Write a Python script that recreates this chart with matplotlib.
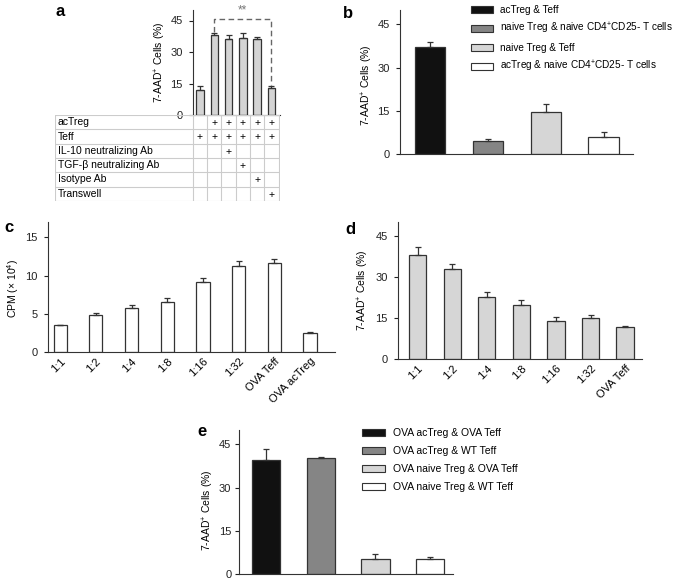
import numpy as np
import matplotlib
matplotlib.use("Agg")
import matplotlib.pyplot as plt
from matplotlib.patches import Patch

plt.rcParams['font.family'] = ['Liberation Sans', 'DejaVu Sans']
plt.rcParams['mathtext.fontset'] = 'custom'
plt.rcParams['mathtext.rm'] = 'Liberation Sans'
plt.rcParams['mathtext.it'] = 'Liberation Sans'
plt.rcParams['font.size'] = 7
plt.rcParams['axes.linewidth'] = 0.8
plt.rcParams['axes.edgecolor'] = '#333333'

W, H = 680, 581

# panel a
a_vals = [12, 38, 36, 36.5, 36, 13]
a_errs = [2, 1, 2, 2.5, 1, 1]
a_rows = ["acTreg", "Teff", "IL-10 neutralizing Ab", "TGF-\u03b2 neutralizing Ab", "Isotype Ab", "Transwell"]
a_marks = [
    [0, 1, 1, 1, 1, 1],
    [1, 1, 1, 1, 1, 1],
    [0, 0, 1, 0, 0, 0],
    [0, 0, 0, 1, 0, 0],
    [0, 0, 0, 0, 1, 0],
    [0, 0, 0, 0, 0, 1],
]

# panel b
b_labels = ["acTreg & Teff", "naive Treg & naive CD4$^{+}$CD25- T cells",
            "naive Treg & Teff", "acTreg & naive CD4$^{+}$CD25- T cells"]
b_vals = [37, 4.5, 14.5, 5.8]
b_errs = [2, 0.8, 2.7, 1.8]

# panel c
c_cats = ["1:1", "1:2", "1:4", "1:8", "1:16", "1:32", "OVA Teff", "OVA acTreg"]
c_vals = [3.5, 4.8, 5.7, 6.6, 9.1, 11.3, 11.6, 2.5]
c_errs = [0.05, 0.3, 0.4, 0.4, 0.6, 0.6, 0.5, 0.1]

# panel d
d_cats = ["1:1", "1:2", "1:4", "1:8", "1:16", "1:32", "OVA Teff"]
d_vals = [38, 33, 22.5, 19.7, 14, 14.8, 11.5]
d_errs = [3, 1.8, 2, 1.8, 1.2, 1.2, 0.7]

# panel e
e_labels = ["OVA acTreg & OVA Teff", "OVA acTreg & WT Teff",
            "OVA naive Treg & OVA Teff", "OVA naive Treg & WT Teff"]
e_vals = [39.5, 40.3, 5.2, 5.2]
e_errs = [3.8, 0.4, 1.8, 0.6]

four_colors = ['#111111', '#858585', '#d6d6d6', '#ffffff']
ylab = "7-AAD$^{+}$ Cells (%)"

fig = plt.figure(figsize=(W / 100, H / 100), dpi=100)


def px_axes(x0, y0, x1, y1):
    return fig.add_axes([x0 / W, 1 - y1 / H, (x1 - x0) / W, (y1 - y0) / H])


def style(ax, pad=4.5):
    for s in ['top', 'right']:
        ax.spines[s].set_visible(False)
    ax.tick_params(axis='y', length=3, width=0.8, pad=pad, labelsize=8, colors='#222222')
    ax.tick_params(axis='x', length=0, pad=3, labelsize=8)


def bars(ax, vals, errs, width, colors):
    x = np.arange(len(vals))
    ax.bar(x, vals, width, color=colors, edgecolor='#333333', linewidth=0.9, zorder=2)
    ax.errorbar(x, vals, yerr=[np.zeros(len(errs)), errs], fmt='none',
                ecolor='#333333', elinewidth=0.9, capsize=2.5, capthick=0.9, zorder=3)
    return x


def ylabel(ax, text, xf, yf):
    ax.set_ylabel(text, fontsize=7.5, va='center')
    ax.yaxis.set_label_coords(xf, yf)


def legend(handles, labels, x, y, fs, sp):
    fig.legend(handles, labels, loc='upper left', bbox_to_anchor=(x / W, 1 - y / H),
               frameon=False, fontsize=fs, handlelength=2.2, handleheight=0.7,
               labelspacing=sp, handletextpad=0.75, borderaxespad=0, borderpad=0)


# ---- a
ax = px_axes(193, 10, 280, 115)
x = bars(ax, a_vals, a_errs, 0.52, '#d4d4d4')
ax.set_xlim(-0.49, 5.6)
ax.set_ylim(0, 50)
ax.set_yticks([0, 15, 30, 45])
ax.set_xticks([])
style(ax)
ylabel(ax, ylab, -0.379, 0.5)
top = 45.5
ax.plot([1, 1, 5, 5], [a_vals[1] + a_errs[1] + 0.5, top, top, a_vals[5] + a_errs[5] + 0.5],
        ls='--', color='#666666', lw=1, dashes=(4, 2.5), clip_on=False)
ax.text(3, top + 1.5, "**", ha='center', va='bottom', fontsize=8.5, color='#777777')

tb = px_axes(55, 115, 280, 201)
tb.set_xlim(-10.14, 5.6)
tb.set_ylim(len(a_rows), 0)
tb.axis('off')
lc = '#cccccc'
for i in range(len(a_rows) + 1):
    tb.plot([-10.14, 5.5], [i, i], color=lc, lw=0.8)
for xv in [-10.14] + [k - 0.5 for k in range(7)]:
    tb.plot([xv, xv], [0, len(a_rows)], color=lc, lw=0.8)
for i, name in enumerate(a_rows):
    tb.text(-9.95, i + 0.5, name, va='center', ha='left', fontsize=7.5)
    for j, m in enumerate(a_marks[i]):
        if m:
            tb.text(j, i + 0.55, "+", ha='center', va='center', fontsize=7.5)

# ---- b
ax = px_axes(400, 10, 633, 154)
bars(ax, b_vals, b_errs, 0.52, four_colors)
ax.set_xlim(-0.52, 3.51)
ax.set_ylim(0, 50)
ax.set_yticks([0, 15, 30, 45])
ax.set_xticks([])
style(ax)
ylabel(ax, ylab, -0.142, 0.48)
hb = [Patch(facecolor=c, edgecolor='#333333', linewidth=0.8) for c in four_colors]
legend(hb, b_labels, 471, 5, 7.2, 0.62)

# ---- c
ax = px_axes(48, 222, 335, 352)
bars(ax, c_vals, c_errs, 0.37, '#ffffff')
ax.set_xlim(-0.34, 7.7)
ax.set_ylim(0, 17)
ax.set_yticks([0, 5, 10, 15])
style(ax)
ax.set_xticks(np.arange(len(c_cats)))
ax.set_xticklabels(c_cats, rotation=45, ha='right', rotation_mode='anchor')
ylabel(ax, "CPM (\u00d7 10$^{4}$)", -0.122, 0.49)

# ---- d
ax = px_axes(398, 222, 642, 359)
bars(ax, d_vals, d_errs, 0.5, '#d6d6d6')
ax.set_xlim(-0.57, 6.49)
ax.set_ylim(0, 50)
ax.set_yticks([0, 15, 30, 45])
style(ax)
ax.set_xticks(np.arange(len(d_cats)))
ax.set_xticklabels(d_cats, rotation=45, ha='right', rotation_mode='anchor')
ylabel(ax, ylab, -0.143, 0.5)

# ---- e
ax = px_axes(239, 430, 453, 574)
bars(ax, e_vals, e_errs, 0.52, four_colors)
ax.set_xlim(-0.5, 3.42)
ax.set_ylim(0, 50)
ax.set_yticks([0, 15, 30, 45])
ax.set_xticks([])
style(ax, pad=2.5)
ylabel(ax, ylab, -0.145, 0.44)
legend(hb, e_labels, 362, 428, 7.5, 0.78)

# panel letters
for lbl, px, py in [('a', 56, 12), ('b', 343, 14), ('c', 4, 228), ('d', 345, 229), ('e', 197, 432)]:
    fig.text(px / W, 1 - py / H, lbl, fontsize=12, fontweight='bold', va='center', ha='left')

fig.savefig("out.png", dpi=100)
